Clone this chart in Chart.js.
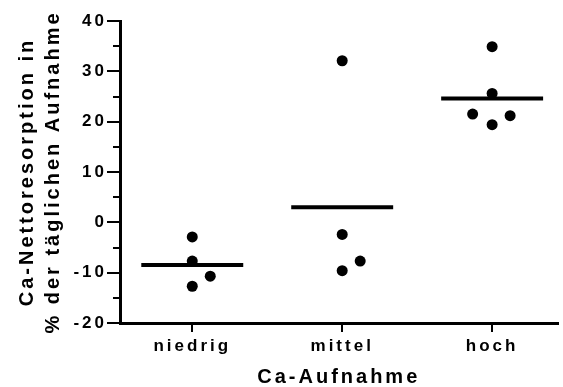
<!DOCTYPE html>
<html>
<head>
<meta charset="utf-8">
<script src="https://cdn.jsdelivr.net/npm/chart.js@4.4.1/dist/chart.umd.min.js"></script>
<style>
  html, body { margin: 0; padding: 0; background: #fff; }
  #wrap { width: 563px; height: 387px; }
</style>
</head>
<body>
<div id="wrap"><canvas id="chart" width="563" height="387"></canvas></div>
<script>
// Ca-Aufnahme groups (x positions 1..3)
const categories = ["niedrig", "mittel", "hoch"];

// single measurements (x includes the small sideways shift used in the plot)
const niedrigX = [1, 1, 1.12, 1];
const niedrigY = [-2.9, -7.7, -10.7, -12.7];

const mittelX = [2, 2, 2.12, 2];
const mittelY = [32.1, -2.4, -7.7, -9.6];

const hochX = [3, 3, 2.87, 3.12, 3];
const hochY = [34.9, 25.6, 21.5, 21.2, 19.4];

// group means
const meanValues = [-8.5, 3.0, 24.6];
const meanHalfWidth = 0.34;

const yTicks = [-20, -10, 0, 10, 20, 30, 40];
const yMinorTicks = [-15, -5, 5, 15, 25, 35];

const FONT_FAMILY = "'Liberation Sans Narrow', 'Arial Narrow', 'Liberation Sans', Arial, sans-serif";

function toPoints(xs, ys) {
  return xs.map((x, i) => ({ x, y: ys[i] }));
}

const pointSets = [
  toPoints(niedrigX, niedrigY),
  toPoints(mittelX, mittelY),
  toPoints(hochX, hochY),
];

const datasets = [];

pointSets.forEach((pts, i) => {
  datasets.push({
    label: categories[i],
    data: pts,
    pointRadius: 5.5,
    pointBackgroundColor: "#000",
    pointBorderWidth: 0,
    showLine: false,
  });
});

meanValues.forEach((m, i) => {
  datasets.push({
    label: "Mittelwert " + categories[i],
    data: [
      { x: i + 1 - meanHalfWidth, y: m },
      { x: i + 1 + meanHalfWidth, y: m },
    ],
    showLine: true,
    borderColor: "#000",
    borderWidth: 4,
    pointRadius: 0,
  });
});

// letter-spaced lettering like the original figure
const spacingPlugin = {
  id: "spacing",
  beforeLayout(chart) { chart.ctx.letterSpacing = "3px"; },
  beforeDraw(chart) { chart.ctx.letterSpacing = "3px"; },
};

// short minor ticks on the y axis
const minorTicksPlugin = {
  id: "minorTicks",
  afterDraw(chart) {
    const y = chart.scales.y;
    const ctx = chart.ctx;
    ctx.save();
    ctx.strokeStyle = "#000";
    ctx.lineWidth = 2;
    yMinorTicks.forEach((v) => {
      const py = Math.round(y.getPixelForValue(v));
      ctx.beginPath();
      ctx.moveTo(y.right - 7, py);
      ctx.lineTo(y.right, py);
      ctx.stroke();
    });
    ctx.restore();
  },
};

new Chart(document.getElementById("chart").getContext("2d"), {
  type: "scatter",
  data: { datasets },
  plugins: [spacingPlugin, minorTicksPlugin],
  options: {
    responsive: false,
    animation: false,
    layout: { padding: { top: 21, left: 0, right: 0, bottom: 0 } },
    plugins: {
      legend: { display: false },
      tooltip: { enabled: false },
    },
    scales: {
      x: {
        type: "linear",
        min: 0.518,
        max: 3.436,
        afterBuildTicks: (scale) => {
          scale.ticks = categories.map((_, i) => ({ value: i + 1 }));
        },
        afterFit: (scale) => { scale.height = 64; },
        grid: {
          drawOnChartArea: false,
          drawTicks: true,
          tickLength: 9,
          color: "#000",
          lineWidth: 2,
        },
        border: { display: true, color: "#000", width: 3 },
        ticks: {
          color: "#000",
          padding: 4,
          font: { family: FONT_FAMILY, size: 17, weight: "bold" },
          callback: (v) => categories[v - 1] ?? "",
        },
        title: {
          display: true,
          text: "Ca-Aufnahme",
          color: "#000",
          padding: 0,
          font: { family: FONT_FAMILY, size: 20, weight: "bold", lineHeight: 1 },
        },
      },
      y: {
        min: -20,
        max: 40,
        afterBuildTicks: (scale) => {
          scale.ticks = yTicks.map((v) => ({ value: v }));
        },
        afterFit: (scale) => { scale.width = 120; },
        grid: {
          drawOnChartArea: false,
          drawTicks: true,
          tickLength: 13,
          color: "#000",
          lineWidth: 2,
        },
        border: { display: true, color: "#000", width: 3 },
        ticks: {
          color: "#000",
          padding: 0,
          font: { family: FONT_FAMILY, size: 17, weight: "bold" },
        },
        title: {
          display: true,
          text: ["Ca-Nettoresorption in", "% der täglichen Aufnahme"],
          color: "#000",
          padding: { top: 14, bottom: 0 },
          font: { family: FONT_FAMILY, size: 20, weight: "bold", lineHeight: 1.3 },
        },
      },
    },
  },
});
</script>
</body>
</html>
